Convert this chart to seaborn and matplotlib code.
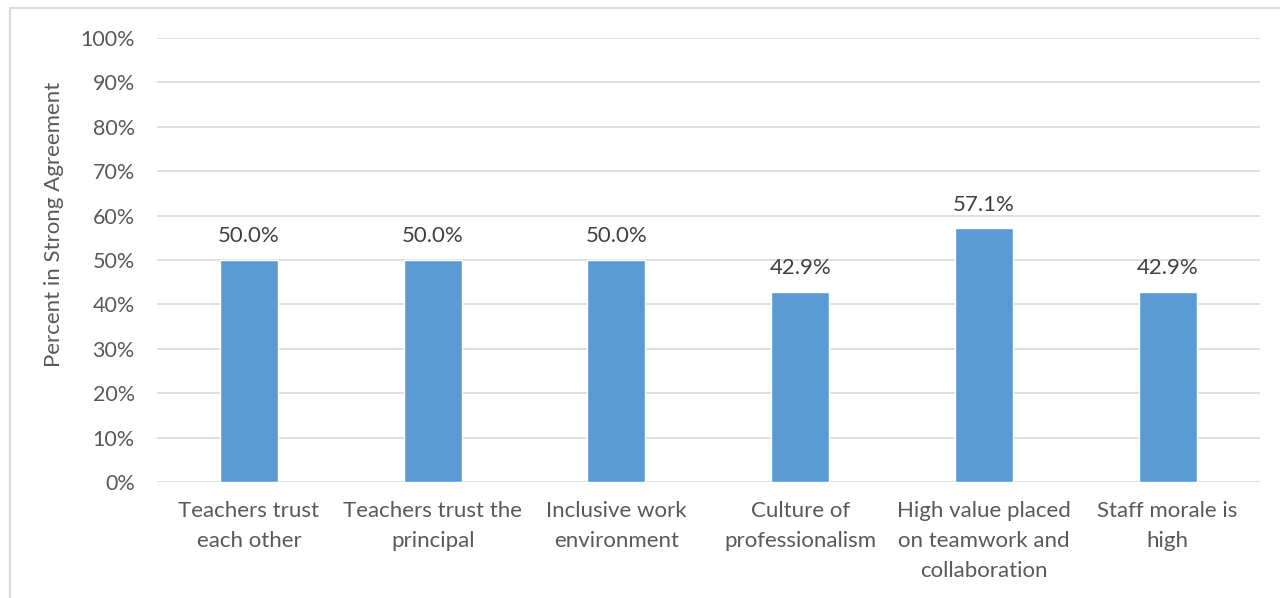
import matplotlib
matplotlib.use("Agg")
import matplotlib.pyplot as plt
import matplotlib.patches as mpatches
import seaborn as sns
import pandas as pd
from matplotlib.ticker import PercentFormatter

# Chart data
categories = ["Teachers trust\neach other", "Teachers trust the\nprincipal",
              "Inclusive work\nenvironment", "Culture of\nprofessionalism",
              "High value placed\non teamwork and\ncollaboration", "Staff morale is\nhigh"]
values = [50.0, 50.0, 50.0, 42.9, 57.1, 42.9]

df = pd.DataFrame({"category": categories, "value": values})

sns.set_theme(style="white")
plt.rcParams['font.family'] = ['Lato', 'DejaVu Sans']
text_color = "#595959"

fig = plt.figure(figsize=(12.8, 5.98), dpi=100)
ax = fig.add_axes([0.1227, 0.194, 0.8613, 0.7425])

sns.barplot(data=df, x="category", y="value", color="#5B9BD5", saturation=1,
            width=0.316, ax=ax)

ax.set_ylim(0, 100)
ax.set_yticks(range(0, 101, 10))
ax.yaxis.set_major_formatter(PercentFormatter(decimals=0))
ax.grid(axis="y", color="#D9D9D9", linewidth=1.2)
ax.set_axisbelow(True)
for s in ax.spines.values():
    s.set_visible(False)

# Value labels above each bar
for c in ax.containers:
    ax.bar_label(c, labels=[f"{v:.1f}%" for v in c.datavalues], padding=10,
                 fontsize=16, color="#404040")

ax.set_xlabel("")
ax.set_ylabel("Percent in Strong Agreement", fontsize=16, color=text_color)
ax.yaxis.set_label_coords(-0.084, 0.58)
ax.tick_params(axis="x", labelsize=16, colors=text_color, length=0, pad=14)
ax.tick_params(axis="y", labelsize=15.5, colors=text_color, length=0, pad=16)
for lbl in ax.get_xticklabels():
    lbl.set_linespacing(1.6)

# Chart border
fig.patches.append(mpatches.Rectangle((10 / 1280, -0.1), 1.2, 1 - 8 / 598 + 0.1,
                                      transform=fig.transFigure, fill=False,
                                      edgecolor="#D9D9D9", linewidth=1.5))

fig.savefig("out.png", dpi=100)
